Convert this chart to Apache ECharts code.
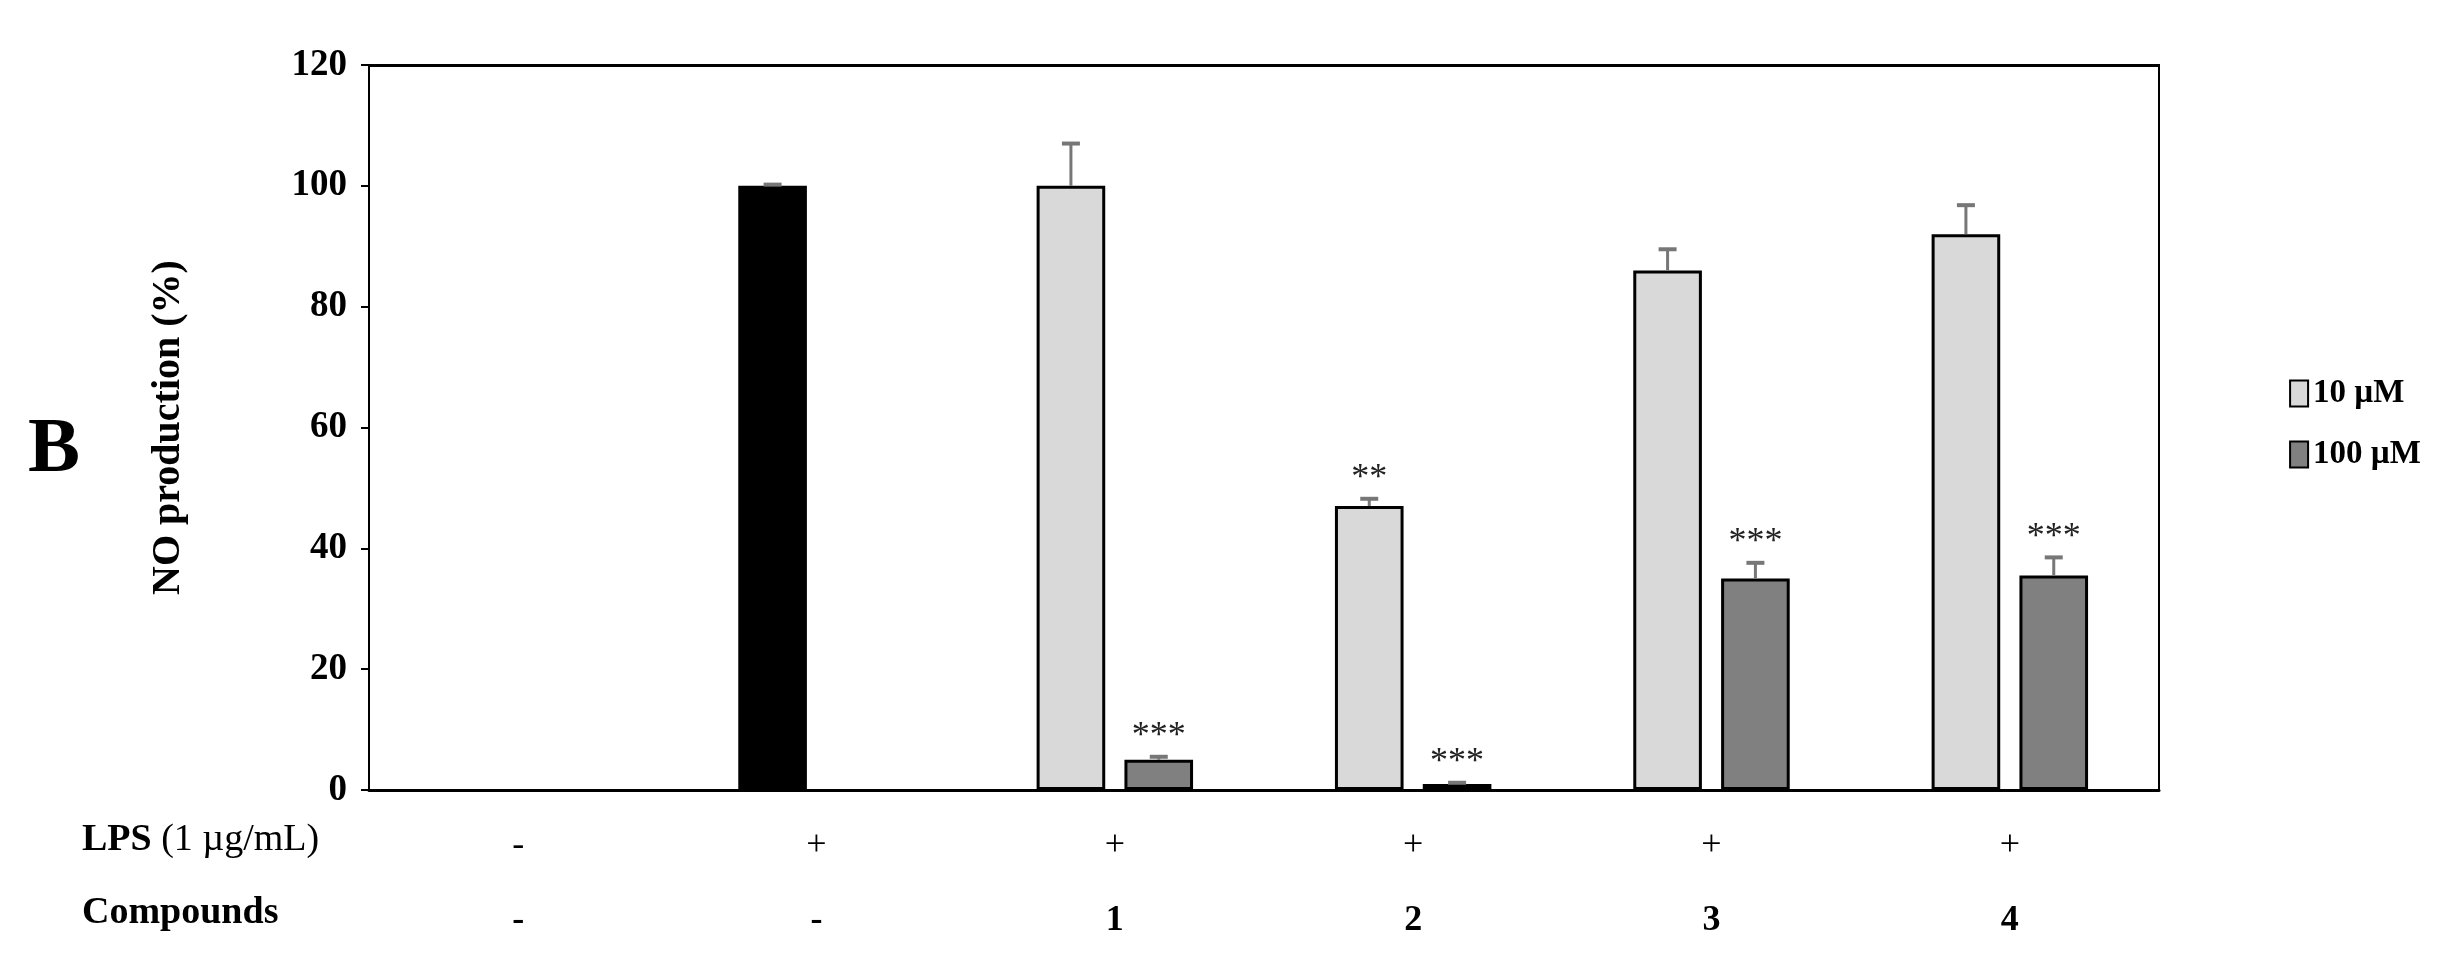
<!DOCTYPE html>
<html><head><meta charset="utf-8">
<script src="https://cdn.jsdelivr.net/npm/echarts@6/dist/echarts.min.js"></script>
<style>html,body{margin:0;background:#fff}#c{width:2444px;height:976px}</style>
</head><body><div id="c"></div>
<script>
var categories = ['c0', 'c1', 'c2', 'c3', 'c4', 'c5'];
var lpsRow = ['-', '+', '+', '+', '+', '+'];
var compoundRow = ['-', '-', '1', '2', '3', '4'];
var control = [null, 100, null, null, null, null];
var controlErr = [null, 0.2, null, null, null, null];
var low = [null, null, 100, 47, 86, 92];
var lowErr = [null, null, 7, 1.2, 3.5, 4.8];
var lowStars = ['', '', '', '**', '', ''];
var high = [null, null, 5, 1, 35, 35.5];
var highErr = [null, null, 0.5, 0.2, 2.6, 3];
var highStars = ['', '', '***', '***', '***', '***'];

var font = 'Liberation Serif';
var BW = 0.23, GAP = 0.28;

function errSeries(vals, errs, stars, side, color) {
  var data = [];
  for (var i = 0; i < vals.length; i++) if (vals[i] != null) data.push([i, vals[i], errs[i], stars[i]]);
  return {
    type: 'custom', z: 5,
    data: data,
    renderItem: function (params, api) {
      var band = api.size([1, 0])[0];
      var off = side * band * BW * (1 + GAP) / 2;
      var base = api.coord([api.value(0), api.value(1)]);
      var top = api.coord([api.value(0), api.value(1) + api.value(2)]);
      var x = base[0] + off;
      var star = data[params.dataIndex][3];
      var ch = [
        {type: 'line', shape: {x1: x, y1: base[1], x2: x, y2: top[1]}, style: {stroke: color, lineWidth: 3}},
        {type: 'line', shape: {x1: x - 9, y1: top[1], x2: x + 9, y2: top[1]}, style: {stroke: color, lineWidth: 4}}
      ];
      if (star) ch.push({type: 'text', x: x, y: top[1] - 2, style: {text: star, fontFamily: font, fontSize: 36, fill: '#222', align: 'center', verticalAlign: 'bottom'}});
      return {type: 'group', children: ch};
    }
  };
}

var chart = echarts.init(document.getElementById('c'));
chart.setOption({
  animation: false,
  grid: {left: 369, right: 285, top: 65, bottom: 186, show: true, borderColor: '#000', borderWidth: 2},
  legend: {
    right: 18, top: 372, orient: 'vertical', icon: 'rect', itemWidth: 18, itemHeight: 26, itemGap: 28,
    textStyle: {fontFamily: font, fontSize: 33, fontWeight: 'bold', color: '#000'},
    itemStyle: {borderColor: '#000', borderWidth: 2},
    data: ['10 µM', '100 µM']
  },
  xAxis: {
    type: 'category', data: categories,
    axisLine: {lineStyle: {color: '#000', width: 3}},
    axisTick: {show: false},
    axisLabel: {
      margin: 18, interval: 0,
      formatter: function (v, i) { return '{a|' + lpsRow[i] + '}\n{b|' + compoundRow[i] + '}'; },
      rich: {
        a: {fontFamily: font, fontSize: 36, color: '#000', lineHeight: 75},
        b: {fontFamily: font, fontSize: 36, fontWeight: 'bold', color: '#000', lineHeight: 75}
      }
    }
  },
  yAxis: {
    type: 'value', min: 0, max: 120, interval: 20,
    name: 'NO production (%)', nameLocation: 'middle', nameGap: 180, nameRotate: 90,
    nameTextStyle: {fontFamily: font, fontSize: 40, fontWeight: 'bold', color: '#000'},
    axisLine: {show: true, lineStyle: {color: '#000', width: 2}},
    axisTick: {show: true, length: 8, lineStyle: {color: '#000', width: 2}},
    axisLabel: {fontFamily: font, fontSize: 37, fontWeight: 'bold', color: '#000', margin: 22},
    splitLine: {show: false}
  },
  graphic: [
    {type: 'text', left: 28, top: 412, style: {text: 'B', fontFamily: font, fontSize: 78, fontWeight: 'bold', fill: '#000'}},
    {type: 'rect', left: 369, top: 64, shape: {width: 1790, height: 3}, style: {fill: '#000'}},
    {type: 'text', left: 82, top: 821, style: {text: '{a|LPS}{c| (1 µg/mL)}', rich: {a: {fontFamily: font, fontSize: 38, fontWeight: 'bold', fill: '#000'}, c: {fontFamily: font, fontSize: 38, fill: '#000'}}}},
    {type: 'text', left: 82, top: 894, style: {text: 'Compounds', fontFamily: font, fontSize: 38, fontWeight: 'bold', fill: '#000'}}
  ],
  series: [
    {name: 'control', type: 'bar', stack: 'a', data: control, barWidth: (BW * 100) + '%', barGap: (GAP * 100) + '%',
     itemStyle: {color: '#000', borderColor: '#000', borderWidth: 2}},
    {name: '10 µM', type: 'bar', stack: 'a', data: low,
     itemStyle: {color: '#d9d9d9', borderColor: '#000', borderWidth: 3}},
    {name: '100 µM', type: 'bar', data: high, barWidth: (BW * 100) + '%',
     itemStyle: {color: '#808080', borderColor: '#000', borderWidth: 3}},
    errSeries(control, controlErr, ['', '', '', '', '', ''], -1, '#777'),
    errSeries(low, lowErr, lowStars, -1, '#777'),
    errSeries(high, highErr, highStars, 1, '#777')
  ]
});
</script></body></html>
